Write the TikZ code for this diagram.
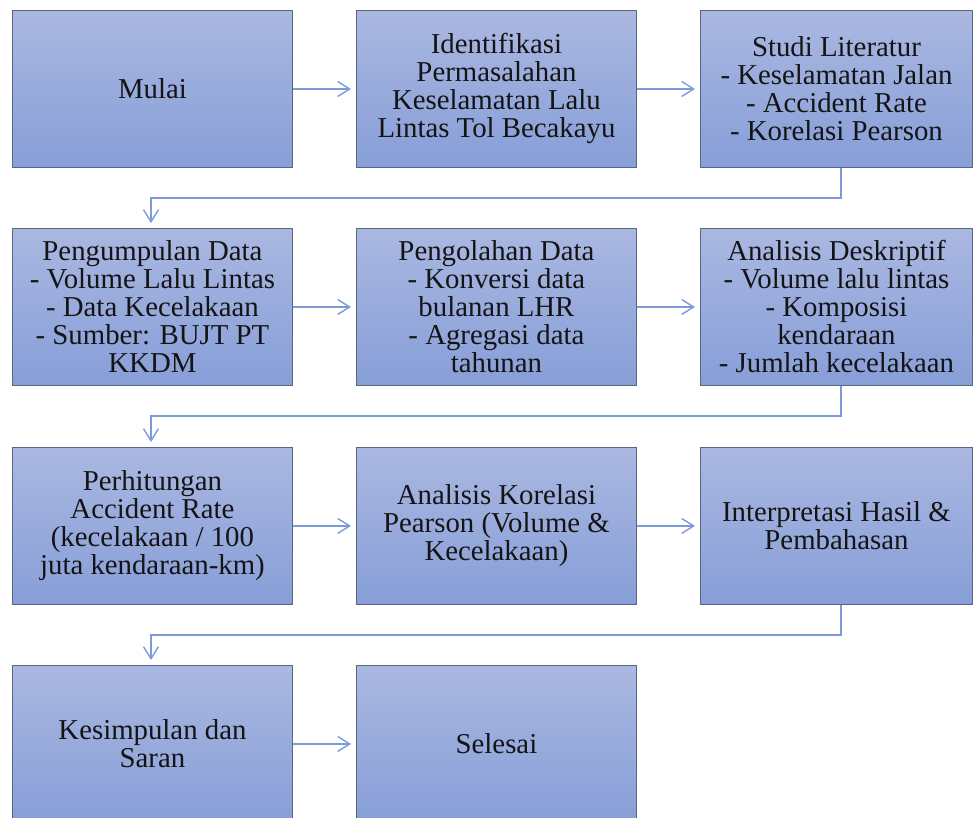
\documentclass[tikz,border=0pt]{standalone}
\usepackage{fontspec}
\setmainfont{Liberation Serif}
\usetikzlibrary{arrows.meta}
\definecolor{boxtop}{HTML}{AAB8E1}
\definecolor{boxbot}{HTML}{879ED8}
\definecolor{boxedge}{HTML}{5C6680}
\definecolor{linkc}{HTML}{7D9BD9}
\tikzset{
  stepbox/.style={rectangle, anchor=north west, minimum width=280pt, minimum height=157pt,
    top color=boxtop, bottom color=boxbot, draw=boxedge, line width=0.9pt,
    align=center, inner sep=0pt, text=black!92,
    font=\fontsize{28.8pt}{28pt}\selectfont},
  link/.style={draw=linkc, line width=1.4pt, -{Straight Barb[length=12pt,width=15pt,line width=1.4pt]}, shorten >=5pt}
}
\begin{document}
\begin{tikzpicture}[x=1pt,y=-1pt]
\clip (0,0) rectangle (974,818);
\fill[white] (0,0) rectangle (974,818);
% row 1
\node[stepbox] (b1) at (12,10) {Mulai};
\node[stepbox] (b2) at (356,10) {Identifikasi\\Permasalahan\\Keselamatan Lalu\\Lintas Tol Becakayu};
\node[stepbox, minimum width=272pt] (b3) at (700,10) {Studi Literatur\\- Keselamatan Jalan\\- Accident Rate\\- Korelasi Pearson};
% row 2
\node[stepbox] (b4) at (12,228) {Pengumpulan Data\\- Volume Lalu Lintas\\- Data Kecelakaan\\- Sumber: BUJT PT\\KKDM};
\node[stepbox] (b5) at (356,228) {Pengolahan Data\\- Konversi data\\bulanan LHR\\- Agregasi  data\\tahunan};
\node[stepbox, minimum width=272pt] (b6) at (700,228) {Analisis Deskriptif\\- Volume lalu lintas\\- Komposisi\\kendaraan\\- Jumlah kecelakaan};
% row 3
\node[stepbox] (b7) at (12,447) {Perhitungan\\Accident Rate\\(kecelakaan / 100\\juta kendaraan-km)};
\node[stepbox] (b8) at (356,447) {Analisis Korelasi\\Pearson (Volume \&\\Kecelakaan)};
\node[stepbox, minimum width=272pt] (b9) at (700,447) {Interpretasi Hasil \&\\Pembahasan};
% row 4
\node[stepbox] (b10) at (12,665) {Kesimpulan dan\\Saran};
\node[stepbox] (b11) at (356,665) {Selesai};
% horizontal links
\draw[link] (b1.east) -- (b2.west);
\draw[link] (b2.east) -- (b3.west);
\draw[link] (b4.east) -- (b5.west);
\draw[link] (b5.east) -- (b6.west);
\draw[link] (b7.east) -- (b8.west);
\draw[link] (b8.east) -- (b9.west);
\draw[link] (b10.east) -- (b11.west);
% elbow links
\draw[link] (b3.south -| 841,0) -- (841,198) -- (151,198) -- (151,0 |- b4.north);
\draw[link] (b6.south -| 841,0) -- (841,416) -- (151,416) -- (151,0 |- b7.north);
\draw[link] (b9.south -| 841,0) -- (841,635) -- (151,635) -- (151,0 |- b10.north);
\end{tikzpicture}
\end{document}
